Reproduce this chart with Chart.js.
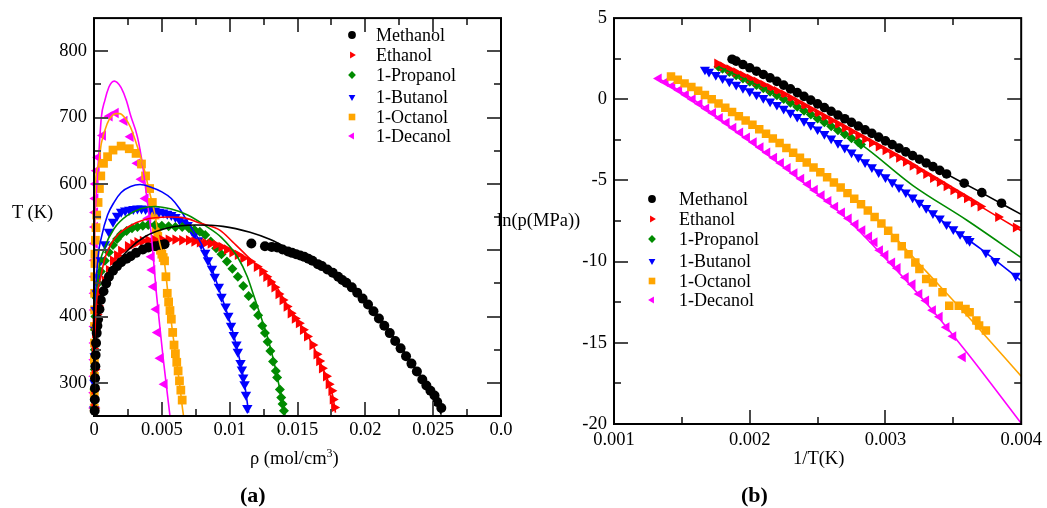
<!DOCTYPE html>
<html>
<head>
<meta charset="utf-8">
<script src="https://cdn.jsdelivr.net/npm/chart.js@4.4.1/dist/chart.umd.min.js"></script>
<style>
  html, body { margin: 0; padding: 0; background: #fff; }
  body { width: 1047px; height: 508px; position: relative; overflow: hidden; font-family: 'Liberation Serif', 'Times New Roman', serif; }
  canvas { position: absolute; display: block; }
  .t { position: absolute; color: #000; white-space: nowrap; font-size: 18.5px; line-height: 18.5px; }
  .t sup { font-size: 12px; line-height: 0; vertical-align: 7px; }
  .p { font-weight: bold; font-size: 22px; line-height: 22px; }
</style>
</head>
<body>
<canvas id="rhoChart" width="530" height="450" style="left:0;top:0;width:530px;height:450px"></canvas>
<canvas id="lnpChart" width="507" height="460" style="left:540px;top:0;width:507px;height:460px"></canvas>

<div class="t" style="left:12px;top:203px">T (K)</div>
<div class="t" style="left:250px;top:449px">ρ (mol/cm<sup>3</sup>)</div>
<div class="t p" style="left:240px;top:484px">(a)</div>
<div class="t" style="left:497px;top:211px">ln(p(MPa))</div>
<div class="t" style="left:793px;top:449px">1/T(K)</div>
<div class="t p" style="left:741px;top:484px">(b)</div>

<script>
// ---------- panel (a): T vs rho ----------
const rhoTicks = [0, 0.005, 0.01, 0.015, 0.02, 0.025, 0.03];
const rhoTickLabels = ['0', '0.005', '0.01', '0.015', '0.02', '0.025', '0.0'];
const rhoMinor = [0.0025, 0.0075, 0.0125, 0.0175, 0.0225, 0.0275];
const tTicks = [300, 400, 500, 600, 700, 800];
const tMinor = [350, 450, 550, 650, 750];

const methanolRhoT = [[0.00005,258],[0.00006,275],[0.00007,292],[0.00008,307],[0.0001,325],[0.00012,342],[0.00015,360],[0.0002,375],[0.00025,386],[0.0003,396],[0.0004,411],[0.0005,425],[0.0007,438],[0.0009,450],[0.0011,460],[0.0014,469],[0.0017,476],[0.002,482],[0.0024,487],[0.0027,491],[0.0031,496],[0.0036,501],[0.004,504],[0.0045,506],[0.0049,508],[0.0052,509],
  [0.0116,510],[0.0126,506],[0.0131,505],[0.0135,504],[0.0139,501],[0.0143,498],[0.0146,496],[0.0149,494],[0.0152,492],[0.0155,490],[0.0158,487],[0.0161,484],[0.0165,479],[0.0168,476],[0.0172,471],[0.0176,466],[0.018,460],[0.0183,455],[0.0186,451],[0.019,444],[0.0194,436],[0.0198,427],[0.0202,418],[0.0206,408],[0.021,397],[0.0214,386],[0.0218,375],[0.0222,363],[0.0226,352],[0.023,340],[0.0234,329],[0.0238,317],[0.0242,305],[0.0245,296],[0.0248,288],[0.0251,281],[0.0253,271],[0.0256,262]];
const methanolFitRhoT = [[0,250],[0.00003,300],[0.0001,350],[0.0003,400],[0.0007,440],[0.0015,475],[0.0025,500],[0.0038,521],[0.0055,534],[0.0075,538],[0.0095,536],[0.0115,527],[0.013,516],[0.0145,500],[0.016,482],[0.0175,462],[0.0188,443],[0.02,421],[0.0212,392],[0.0224,360],[0.0236,325],[0.0247,290],[0.0252,272],[0.0256,252]];

const ethanolRhoT = [[0.00003,262],[0.00004,290],[0.00005,320],[0.00006,350],[0.00008,375],[0.00012,390],[0.0002,403],[0.0003,416],[0.0005,435],[0.0008,454],[0.0011,470],[0.0014,484],[0.0017,492],[0.002,499],[0.0025,506],[0.0029,509],[0.0032,512],[0.0036,514],[0.004,515],[0.0045,515],[0.005,516],[0.0055,516],[0.006,516],[0.0065,515],[0.007,515],[0.0074,513],[0.0078,512],[0.0082,511],[0.0086,510],[0.009,508],[0.0094,505],[0.0098,501],[0.0102,497],[0.0106,493],[0.011,488],[0.0115,483],[0.012,475],[0.0124,468],[0.0127,460],[0.013,452],[0.0133,444],[0.0136,434],[0.0139,425],[0.0142,415],[0.0145,405],[0.0148,397],[0.0151,390],[0.0154,380],[0.0157,370],[0.0161,357],[0.0164,343],[0.0166,333],[0.0168,322],[0.0171,310],[0.0173,298],[0.0175,288],[0.0176,275],[0.0177,263]];
const ethanolFitRhoT = [[0,255],[0.00005,340],[0.0001,390],[0.0002,425],[0.0005,460],[0.0008,488],[0.00125,509],[0.0018,524],[0.0025,535],[0.0037,546],[0.0055,550],[0.0068,548],[0.0078,541],[0.0093,530],[0.0102,513],[0.0112,493],[0.012,477],[0.0128,462],[0.0136,440],[0.0143,415],[0.0151,392],[0.0161,358],[0.0168,325],[0.0173,300],[0.0176,280],[0.0178,255]];

const propanolRhoT = [[0.00003,262],[0.00004,290],[0.00005,320],[0.00006,350],[0.00008,380],[0.0001,400],[0.0002,428],[0.0003,450],[0.0005,468],[0.0008,484],[0.0011,497],[0.0014,508],[0.0017,517],[0.002,524],[0.0024,529],[0.0028,533],[0.0032,535],[0.0036,537],[0.004,538],[0.0045,538],[0.005,537],[0.0055,536],[0.006,535],[0.0065,535],[0.007,533],[0.0074,531],[0.0078,528],[0.0082,523],[0.0086,513],[0.009,503],[0.0094,494],[0.0098,483],[0.0102,472],[0.0106,460],[0.011,446],[0.0114,431],[0.0118,416],[0.0121,402],[0.0124,386],[0.0126,375],[0.0128,362],[0.013,348],[0.0132,332],[0.0134,318],[0.0135,308],[0.0137,290],[0.0138,278],[0.0139,268],[0.014,258]];
const propanolFitRhoT = [[0,255],[0.00005,340],[0.0001,390],[0.0003,460],[0.0008,504],[0.0015,533],[0.0025,553],[0.0035,563],[0.0045,566],[0.0057,562],[0.0069,553],[0.0082,537],[0.0094,519],[0.0106,489],[0.0113,460],[0.0118,430],[0.0123,400],[0.0128,368],[0.0132,337],[0.0136,300],[0.0139,270],[0.0141,252]];

const butanolRhoT = [[0.00002,260],[0.00003,300],[0.00005,340],[0.00008,380],[0.00012,410],[0.0002,435],[0.0003,460],[0.0005,485],[0.0008,509],[0.0011,528],[0.0014,543],[0.0017,552],[0.002,558],[0.0023,560],[0.0026,561],[0.0029,562],[0.0032,563],[0.0035,563],[0.0038,562],[0.0041,561],[0.0045,560],[0.0048,558],[0.0051,557],[0.0054,555],[0.0057,553],[0.006,550],[0.0063,546],[0.0066,542],[0.0069,538],[0.0072,530],[0.0074,524],[0.0077,515],[0.0079,509],[0.0082,496],[0.0084,485],[0.0087,472],[0.0089,460],[0.0092,445],[0.0094,430],[0.0097,415],[0.0099,401],[0.0101,386],[0.0103,372],[0.0105,358],[0.0106,347],[0.0108,330],[0.0109,320],[0.011,308],[0.0111,298],[0.0112,282],[0.0113,262]];
const butanolFitRhoT = [[0,255],[0.00003,350],[0.0001,420],[0.0003,490],[0.00054,519],[0.001,553],[0.0015,573],[0.002,587],[0.0027,596],[0.0034,599],[0.0042,595],[0.005,588],[0.0057,578],[0.0063,563],[0.0069,543],[0.0074,527],[0.0079,510],[0.0084,487],[0.0089,460],[0.0094,430],[0.0099,400],[0.0103,372],[0.0106,347],[0.0109,320],[0.0111,298],[0.0114,255]];

const octanolRhoT = [[0.00002,262],[0.00002,285],[0.00003,310],[0.00003,335],[0.00004,360],[0.00004,385],[0.00005,410],[0.00005,435],[0.00006,460],[0.00007,480],[0.00007,494],[0.0001,515],[0.00015,534],[0.0002,553],[0.0003,572],[0.0004,593],[0.0005,612],[0.0007,631],[0.001,641],[0.0014,651],[0.002,657],[0.0026,653],[0.0031,646],[0.0035,630],[0.0038,612],[0.0041,593],[0.0043,572],[0.0045,553],[0.0046,534],[0.0047,521],[0.0048,509],[0.0049,500],[0.005,494],[0.0051,489],[0.0052,484],[0.0053,460],[0.0054,435],[0.0055,422],[0.0056,409],[0.0057,396],[0.0058,376],[0.0059,357],[0.006,344],[0.0061,331],[0.0062,318],[0.0063,303],[0.0064,289],[0.0065,274]];
const octanolFitRhoT = [[0,250],[0.00002,450],[0.00005,578],[0.0003,626],[0.00054,661],[0.001,692],[0.0013,702],[0.0016,706],[0.0019,706],[0.0023,699],[0.0027,685],[0.0032,656],[0.0037,622],[0.0041,587],[0.0045,553],[0.0048,515],[0.0052,480],[0.0055,425],[0.0058,375],[0.0061,330],[0.0063,300],[0.0065,265],[0.0066,250]];

const decanolRhoT = [[0.00001,262],[0.00001,285],[0.00002,310],[0.00002,335],[0.00003,360],[0.00003,385],[0.00004,410],[0.00004,435],[0.00005,460],[0.00005,485],[0.00006,510],[0.00007,535],[0.00008,557],[0.0001,578],[0.00012,600],[0.0002,620],[0.0003,640],[0.00066,673],[0.00115,702],[0.0016,707],[0.00225,695],[0.0027,671],[0.0032,631],[0.0035,607],[0.0038,578],[0.004,548],[0.0042,514],[0.00425,490],[0.0043,470],[0.0044,445],[0.0046,411],[0.0047,376],[0.0049,337],[0.0052,298]];
const decanolFitRhoT = [[0,250],[0.00002,420],[0.00005,528],[0.0001,560],[0.0003,626],[0.00054,700],[0.0008,726],[0.0011,746],[0.0013,753],[0.0015,755],[0.0017,753],[0.002,745],[0.0024,725],[0.0027,703],[0.0032,671],[0.0036,626],[0.0039,578],[0.0042,528],[0.0044,482],[0.0046,435],[0.0048,395],[0.0051,337],[0.0056,250]];

// ---------- panel (b): ln p vs 1/T ----------
const invTTicks = [0.001, 0.002, 0.003, 0.004];
const invTTickLabels = ['0.001', '0.002', '0.003', '0.004'];
const invTMinor = [0.0015, 0.0025, 0.0035];
const lnpTicks = [-20, -15, -10, -5, 0, 5];
const lnpMinor = [-17.5, -12.5, -7.5, -2.5, 2.5];

const methanolInvT = [[0.00187,2.47],[0.0019,2.35],[0.00195,2.14],[0.002,1.94],[0.00205,1.73],[0.0021,1.53],[0.00215,1.32],[0.0022,1.10],[0.00225,0.87],[0.0023,0.64],[0.00235,0.41],[0.0024,0.18],[0.00245,-0.05],[0.0025,-0.28],[0.00255,-0.51],[0.0026,-0.74],[0.00265,-0.97],[0.0027,-1.20],[0.00275,-1.42],[0.0028,-1.65],[0.00285,-1.88],[0.0029,-2.10],[0.00295,-2.33],[0.003,-2.56],[0.00305,-2.79],[0.0031,-3.01],[0.00315,-3.24],[0.0032,-3.47],[0.00325,-3.69],[0.0033,-3.92],[0.00335,-4.15],[0.0034,-4.38],[0.00345,-4.60],[0.00358,-5.17],[0.00371,-5.75],[0.003855,-6.4]];
const methanolFitInvT = [[0.00187,2.47],[0.0022,1.08],[0.0026,-0.74],[0.003,-2.56],[0.0034,-4.38],[0.0037,-5.72],[0.004,-7.09]];

const ethanolInvT = [[0.00176,2.2],[0.0018,2.03],[0.00185,1.85],[0.0019,1.66],[0.00195,1.47],[0.002,1.28],[0.00205,1.09],[0.0021,0.90],[0.00215,0.70],[0.0022,0.51],[0.00225,0.31],[0.0023,0.08],[0.00235,-0.15],[0.0024,-0.38],[0.00245,-0.61],[0.0025,-0.84],[0.00255,-1.07],[0.0026,-1.30],[0.00265,-1.53],[0.0027,-1.76],[0.00275,-1.99],[0.0028,-2.22],[0.00285,-2.45],[0.0029,-2.68],[0.00295,-2.91],[0.003,-3.14],[0.00305,-3.37],[0.0031,-3.60],[0.00315,-3.85],[0.0032,-4.10],[0.00325,-4.35],[0.0033,-4.60],[0.00335,-4.85],[0.0034,-5.10],[0.00345,-5.35],[0.0035,-5.60],[0.00355,-5.85],[0.0036,-6.10],[0.00365,-6.35],[0.0037,-6.60],[0.00383,-7.25],[0.00396,-7.9]];
const ethanolFitInvT = [[0.00176,2.2],[0.0022,0.51],[0.0026,-1.3],[0.0031,-3.6],[0.0034,-5.1],[0.0037,-6.6],[0.004,-8.1]];

const propanolInvT = [[0.00177,2.0],[0.0018,1.88],[0.00185,1.68],[0.0019,1.48],[0.00195,1.28],[0.002,1.08],[0.00205,0.88],[0.0021,0.68],[0.00215,0.46],[0.0022,0.25],[0.00225,0.02],[0.0023,-0.22],[0.00235,-0.46],[0.0024,-0.70],[0.00245,-0.94],[0.0025,-1.18],[0.00255,-1.42],[0.0026,-1.66],[0.00265,-1.90],[0.0027,-2.15],[0.00275,-2.40],[0.0028,-2.65],[0.00282,-2.78]];
const propanolFitInvT = [[0.00177,2.0],[0.0021,0.68],[0.0025,-1.18],[0.00282,-2.78],[0.0032,-5.3],[0.0036,-7.45],[0.004,-9.75]];

const butanolInvT = [[0.00167,1.83],[0.0017,1.70],[0.00175,1.50],[0.0018,1.30],[0.00185,1.10],[0.0019,0.90],[0.00195,0.70],[0.002,0.50],[0.00205,0.29],[0.0021,0.08],[0.00215,-0.13],[0.0022,-0.34],[0.00225,-0.58],[0.0023,-0.83],[0.00235,-1.08],[0.0024,-1.33],[0.00245,-1.58],[0.0025,-1.85],[0.00255,-2.13],[0.0026,-2.41],[0.00265,-2.69],[0.0027,-2.98],[0.00275,-3.27],[0.0028,-3.57],[0.00285,-3.87],[0.0029,-4.18],[0.00295,-4.49],[0.003,-4.80],[0.00305,-5.11],[0.0031,-5.42],[0.00315,-5.73],[0.0032,-6.05],[0.00325,-6.37],[0.0033,-6.69],[0.00335,-7.01],[0.0034,-7.33],[0.00345,-7.70],[0.0035,-8.0],[0.00355,-8.3],[0.0036,-8.6],[0.00362,-8.73],[0.00374,-9.44],[0.00381,-9.95],[0.00396,-10.87]];
const butanolFitInvT = [[0.00167,1.83],[0.002,0.5],[0.0022,-0.34],[0.00245,-1.58],[0.00285,-3.87],[0.0032,-6.05],[0.00345,-7.7],[0.0037,-9.2],[0.004,-11.18]];

const octanolInvT = [[0.00142,1.41],[0.00147,1.2],[0.00152,0.98],[0.00157,0.76],[0.00162,0.52],[0.00167,0.27],[0.00172,0.0],[0.00177,-0.26],[0.00182,-0.52],[0.00187,-0.78],[0.00192,-1.04],[0.00197,-1.3],[0.00202,-1.57],[0.00207,-1.85],[0.00212,-2.13],[0.00217,-2.42],[0.00222,-2.7],[0.00227,-3.0],[0.00232,-3.3],[0.00237,-3.6],[0.00242,-3.9],[0.00247,-4.2],[0.00252,-4.5],[0.00257,-4.8],[0.00262,-5.12],[0.00267,-5.44],[0.00272,-5.78],[0.00277,-6.12],[0.00282,-6.47],[0.00287,-6.85],[0.00292,-7.25],[0.00297,-7.65],[0.00302,-8.1],[0.00307,-8.55],[0.00312,-9.05],[0.00317,-9.55],[0.00322,-10.05],[0.00325,-10.46],[0.0033,-11.07],[0.00335,-11.28],[0.00342,-11.89],[0.00347,-12.71],[0.00354,-12.71],[0.00359,-12.91],[0.00362,-13.12],[0.00367,-13.63],[0.00369,-13.93],[0.00374,-14.24]];
const octanolFitInvT = [[0.00142,1.41],[0.0018,-0.42],[0.0022,-2.6],[0.0026,-4.95],[0.003,-7.9],[0.0033,-10.6],[0.0036,-13.3],[0.004,-17.06]];

const decanolInvT = [[0.00133,1.28],[0.00138,1.05],[0.00143,0.82],[0.00148,0.55],[0.00153,0.28],[0.00158,0.0],[0.00163,-0.28],[0.00168,-0.57],[0.00173,-0.85],[0.00178,-1.15],[0.00183,-1.45],[0.00188,-1.75],[0.00193,-2.05],[0.00198,-2.35],[0.00203,-2.65],[0.00208,-2.95],[0.00213,-3.28],[0.00218,-3.6],[0.00223,-3.92],[0.00228,-4.24],[0.00233,-4.56],[0.00238,-4.9],[0.00243,-5.24],[0.00248,-5.58],[0.00253,-5.92],[0.00258,-6.27],[0.00263,-6.62],[0.00268,-6.98],[0.00273,-7.34],[0.00278,-7.7],[0.00283,-8.07],[0.00288,-8.45],[0.00292,-8.8],[0.00296,-9.3],[0.003,-9.6],[0.00305,-10.05],[0.00309,-10.4],[0.00315,-10.97],[0.0032,-11.4],[0.00325,-11.99],[0.0033,-12.4],[0.00335,-13.0],[0.0034,-13.4],[0.00345,-14.04],[0.0035,-14.6],[0.00357,-15.88]];
const decanolFitInvT = [[0.00133,1.28],[0.0016,-0.1],[0.002,-2.6],[0.0024,-5.15],[0.0027,-7.25],[0.003,-9.8],[0.0033,-12.55],[0.0036,-15.6],[0.004,-19.96]];

const seriesNames = ['Methanol', 'Ethanol', '1-Propanol', '1-Butanol', '1-Octanol', '1-Decanol'];
const seriesColors = ['#000000', '#ff0000', '#008b00', '#0000ff', '#ffa500', '#ff00ff'];
const seriesStyles = ['circle', 'triangle', 'rectRot', 'triangle', 'rect', 'triangle'];
const seriesRotations = [0, 90, 0, 180, 0, 270];
const rhoRadii = [5, 6, 5, 6, 6.2, 6];
const invRadii = [4.8, 5.8, 5, 5.8, 6, 5.8];

function drawMarker(ctx, style, rot, x, y, r, color) {
  ctx.save();
  ctx.translate(x, y);
  ctx.rotate(rot * Math.PI / 180);
  ctx.fillStyle = color;
  ctx.beginPath();
  if (style === 'circle') ctx.arc(0, 0, r, 0, Math.PI * 2);
  else if (style === 'triangle') { ctx.moveTo(0, -r); ctx.lineTo(r * 0.866, r * 0.5); ctx.lineTo(-r * 0.866, r * 0.5); ctx.closePath(); }
  else if (style === 'rect') ctx.rect(-r * 0.72, -r * 0.72, r * 1.44, r * 1.44);
  else { ctx.moveTo(0, -r); ctx.lineTo(r, 0); ctx.lineTo(0, r); ctx.lineTo(-r, 0); ctx.closePath(); }
  ctx.fill();
  ctx.restore();
}

// inward ticks on all four sides + frame, xmgrace style
const frameTicks = {
  id: 'frameTicks',
  afterDatasetsDraw(chart, args, o) {
    const { ctx, chartArea: a, scales: { x, y } } = chart;
    ctx.save();
    ctx.strokeStyle = '#4a4a4a';
    ctx.lineWidth = 2;
    ctx.beginPath();
    const xt = (vals, len) => vals.forEach(v => {
      const px = Math.round(x.getPixelForValue(v));
      ctx.moveTo(px, a.bottom); ctx.lineTo(px, a.bottom - len);
      ctx.moveTo(px, a.top); ctx.lineTo(px, a.top + len);
    });
    const yt = (vals, len) => vals.forEach(v => {
      const py = Math.round(y.getPixelForValue(v));
      ctx.moveTo(a.left, py); ctx.lineTo(a.left + len, py);
      ctx.moveTo(a.right, py); ctx.lineTo(a.right - len, py);
    });
    xt(o.xMajor, 14); xt(o.xMinor, 7);
    yt(o.yMajor, 14); yt(o.yMinor, 7);
    ctx.stroke();
    ctx.strokeStyle = '#000';
    ctx.strokeRect(a.left, a.top, a.right - a.left, a.bottom - a.top);
    ctx.restore();
  }
};

// legend drawn inside the plot at fixed rows
const inLegend = {
  id: 'inLegend',
  afterDraw(chart, args, o) {
    const ctx = chart.ctx;
    ctx.save();
    ctx.font = '18px "Liberation Serif", serif';
    ctx.textBaseline = 'middle';
    seriesNames.forEach((name, i) => {
      drawMarker(ctx, seriesStyles[i], seriesRotations[i], o.markerX, o.rows[i], seriesStyles[i] === 'rect' ? 4.6 : 3.9, seriesColors[i]);
      ctx.fillStyle = '#000';
      ctx.fillText(name, o.textX, o.rows[i] + 1);
    });
    ctx.restore();
  }
};

function pointSet(i, data, radii) {
  return {
    label: seriesNames[i], data, showLine: false, order: 1,
    pointStyle: seriesStyles[i], pointRotation: seriesRotations[i], pointRadius: radii[i],
    backgroundColor: seriesColors[i], borderColor: seriesColors[i], pointBorderWidth: 0,
    clip: { left: 12, top: 0, right: 0, bottom: 6 }
  };
}
function fitSet(i, data) {
  return {
    label: seriesNames[i] + ' fit', data, showLine: true, order: 0, pointRadius: 0,
    borderColor: seriesColors[i], borderWidth: 1.6, cubicInterpolationMode: 'monotone', fill: false,
    clip: { left: 2, top: 0, right: 0, bottom: 0 }
  };
}

const tickFont = { family: "'Liberation Serif', serif", size: 18.5 };

function makeChart(id, cfg) {
  return new Chart(document.getElementById(id), {
    type: 'scatter',
    data: { datasets: cfg.datasets },
    options: {
      responsive: false, animation: false, events: [],
      layout: { padding: cfg.padding },
      plugins: { legend: { display: false }, tooltip: { enabled: false }, frameTicks: cfg.ticks, inLegend: cfg.legend },
      scales: {
        x: {
          type: 'linear', min: cfg.xMin, max: cfg.xMax,
          grid: { display: false, drawTicks: false }, border: { display: false },
          afterBuildTicks: s => { s.ticks = cfg.xTicks.map(v => ({ value: v })); },
          afterFit: s => { s.height = cfg.xAxisH; },
          ticks: { autoSkip: false, maxRotation: 0, color: '#000', font: tickFont, padding: cfg.xPad, callback: (v, i) => cfg.xLabels[i] }
        },
        y: {
          type: 'linear', min: cfg.yMin, max: cfg.yMax,
          grid: { display: false, drawTicks: false }, border: { display: false },
          afterBuildTicks: s => { s.ticks = cfg.yTicks.map(v => ({ value: v })); },
          afterFit: s => { s.width = cfg.yAxisW; },
          ticks: { autoSkip: false, color: '#000', font: tickFont, padding: 7, callback: v => String(v) }
        }
      }
    },
    plugins: [frameTicks, inLegend]
  });
}

const rhoSets = [methanolRhoT, ethanolRhoT, propanolRhoT, butanolRhoT, octanolRhoT, decanolRhoT];
const rhoFits = [methanolFitRhoT, ethanolFitRhoT, propanolFitRhoT, butanolFitRhoT, octanolFitRhoT, decanolFitRhoT];
const invSets = [methanolInvT, ethanolInvT, propanolInvT, butanolInvT, octanolInvT, decanolInvT];
const invFits = [methanolFitInvT, ethanolFitInvT, propanolFitInvT, butanolFitInvT, octanolFitInvT, decanolFitInvT];

makeChart('rhoChart', {
  datasets: [...rhoFits.map((d, i) => fitSet(i, d)), ...rhoSets.map((d, i) => pointSet(i, d, rhoRadii))],
  padding: { left: 0, top: 9, right: 29, bottom: 0 },
  xMin: 0, xMax: 0.03, yMin: 250, yMax: 850,
  xTicks: rhoTicks, xLabels: rhoTickLabels, yTicks: tTicks,
  xAxisH: 34, yAxisW: 94, xPad: 3,
  ticks: { xMajor: rhoTicks.slice(1, -1), xMinor: rhoMinor, yMajor: tTicks, yMinor: tMinor },
  legend: { markerX: 352, textX: 376, rows: [35, 55, 75, 97, 117, 136] }
});

makeChart('lnpChart', {
  datasets: [...invFits.map((d, i) => fitSet(i, d)), ...invSets.map((d, i) => pointSet(i, d, invRadii))],
  padding: { left: 0, top: 16, right: 24, bottom: 0 },
  xMin: 0.001, xMax: 0.004, yMin: -20, yMax: 5,
  xTicks: invTTicks, xLabels: invTTickLabels, yTicks: lnpTicks,
  xAxisH: 36, yAxisW: 74, xPad: 5,
  ticks: { xMajor: invTTicks.slice(1, -1), xMinor: invTMinor, yMajor: lnpTicks.slice(1, -1), yMinor: lnpMinor },
  legend: { markerX: 112, textX: 139, rows: [199, 219, 239, 261, 281, 300] }
});
</script>
</body>
</html>
